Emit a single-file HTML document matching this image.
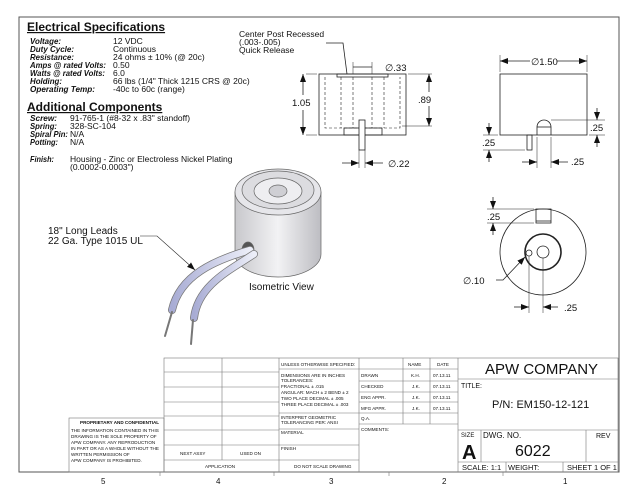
<!DOCTYPE html>
<html><head><meta charset="utf-8"><style>
html,body{margin:0;padding:0;background:#fff}
svg{display:block}
text{font-family:"Liberation Sans",Arial,sans-serif;fill:#111}
.b{font-weight:bold;font-style:italic}
.s{font-size:8.5px}
.t{font-size:4.6px}
</style></head><body>
<svg width="640" height="495" viewBox="0 0 640 495" xmlns="http://www.w3.org/2000/svg">
<defs>
<marker id="a" markerWidth="8" markerHeight="6" refX="8" refY="3" orient="auto" markerUnits="userSpaceOnUse"><path d="M0,0L8,3L0,6z" fill="#111"/></marker>
<linearGradient id="cyl" x1="0" x2="1"><stop offset="0" stop-color="#c8c8cc"/><stop offset=".5" stop-color="#f2f2f4"/><stop offset="1" stop-color="#bdbdc2"/></linearGradient>
<linearGradient id="wire" x1="0" x2="1"><stop offset="0" stop-color="#a8acd4"/><stop offset="1" stop-color="#eceef8"/></linearGradient>
</defs>
<rect x="19" y="17" width="600" height="455" fill="none" stroke="#555" stroke-width="1"/>
<!-- specs -->
<g class="s">
<text x="27" y="31" font-size="12" font-weight="bold" text-decoration="underline">Electrical Specifications</text>
<text class="b" x="30" y="44" textLength="31" lengthAdjust="spacingAndGlyphs">Voltage:</text><text x="113" y="44">12 VDC</text>
<text class="b" x="30" y="52" textLength="44" lengthAdjust="spacingAndGlyphs">Duty Cycle:</text><text x="113" y="52">Continuous</text>
<text class="b" x="30" y="60" textLength="44" lengthAdjust="spacingAndGlyphs">Resistance:</text><text x="113" y="60">24 ohms ± 10% (@ 20c)</text>
<text class="b" x="30" y="68" textLength="76" lengthAdjust="spacingAndGlyphs">Amps @ rated Volts:</text><text x="113" y="68">0.50</text>
<text class="b" x="30" y="76" textLength="75" lengthAdjust="spacingAndGlyphs">Watts @ rated Volts:</text><text x="113" y="76">6.0</text>
<text class="b" x="30" y="84" textLength="32" lengthAdjust="spacingAndGlyphs">Holding:</text><text x="113" y="84">66 lbs (1/4" Thick 1215 CRS @ 20c)</text>
<text class="b" x="30" y="92" textLength="65" lengthAdjust="spacingAndGlyphs">Operating Temp:</text><text x="113" y="92">-40c to 60c (range)</text>
<text x="27" y="111" font-size="12" font-weight="bold" text-decoration="underline">Additional Components</text>
<text class="b" x="30" y="121" textLength="27" lengthAdjust="spacingAndGlyphs">Screw:</text><text x="70" y="121">91-765-1 (#8-32 x .83" standoff)</text>
<text class="b" x="30" y="129" textLength="27" lengthAdjust="spacingAndGlyphs">Spring:</text><text x="70" y="129">328-SC-104</text>
<text class="b" x="30" y="137" textLength="38" lengthAdjust="spacingAndGlyphs">Spiral Pin:</text><text x="70" y="137">N/A</text>
<text class="b" x="30" y="145" textLength="28" lengthAdjust="spacingAndGlyphs">Potting:</text><text x="70" y="145">N/A</text>
<text class="b" x="30" y="162" textLength="24" lengthAdjust="spacingAndGlyphs">Finish:</text><text x="70" y="162">Housing - Zinc or Electroless Nickel Plating</text>
<text x="70" y="170">(0.0002-0.0003")</text>
</g>
<!-- side section view -->
<g stroke="#222" stroke-width="0.8" fill="none">
<text x="239" y="37" font-size="8.5" stroke="none">Center Post Recessed</text>
<text x="239" y="45" font-size="8.5" stroke="none">(.003-.005)</text>
<text x="239" y="53" font-size="8.5" stroke="none">Quick Release</text>
<polyline points="326,43 343,43 347,74"/>
<rect x="319" y="74" width="87" height="61"/>
<rect x="337" y="74" width="51" height="3"/>
<g stroke-dasharray="3,2" stroke-width="0.6">
<polyline points="325,77 325,128 400,128 400,77"/>
<line x1="341" y1="77" x2="341" y2="128"/><line x1="384" y1="77" x2="384" y2="128"/>
<line x1="353" y1="77" x2="353" y2="128"/><line x1="372" y1="77" x2="372" y2="128"/>
</g>
<rect x="344" y="128" width="38" height="7"/>
<rect x="359" y="120" width="6" height="30" fill="#fff"/>
<line x1="306" y1="74" x2="317" y2="74" stroke-width="0.5"/><line x1="306" y1="135" x2="317" y2="135" stroke-width="0.5"/>
<line x1="303" y1="95" x2="303" y2="74" marker-end="url(#a)"/><line x1="303" y1="110" x2="303" y2="135" marker-end="url(#a)"/>
<line x1="408" y1="74" x2="432" y2="74" stroke-width="0.5"/><line x1="402" y1="126" x2="432" y2="126" stroke-width="0.5"/>
<line x1="429" y1="92" x2="429" y2="74" marker-end="url(#a)"/><line x1="429" y1="106" x2="429" y2="126" marker-end="url(#a)"/>
<line x1="353" y1="62" x2="353" y2="74" stroke-width="0.5"/><line x1="372" y1="62" x2="372" y2="74" stroke-width="0.5"/>
<line x1="353" y1="67" x2="372" y2="67"/>
<line x1="359" y1="150" x2="359" y2="168" stroke-width="0.5"/><line x1="365" y1="150" x2="365" y2="168" stroke-width="0.5"/>
<line x1="342" y1="163" x2="359" y2="163" marker-end="url(#a)"/><line x1="383" y1="163" x2="365" y2="163" marker-end="url(#a)"/>
</g>
<g font-size="9.5">
<text x="292" y="106">1.05</text><text x="418" y="103">.89</text>
<text x="385" y="71">∅.33</text><text x="388" y="167">∅.22</text>
</g>
<!-- front view right -->
<g stroke="#222" stroke-width="0.8" fill="none">
<rect x="500" y="74" width="87" height="61"/>
<path d="M537,135 L537,127 A7,7 0 0 1 551,127 L551,135"/>
<line x1="537" y1="127" x2="551" y2="127"/>
<rect x="527" y="135" width="5" height="15"/>
<line x1="500" y1="55" x2="500" y2="72" stroke-width="0.5"/><line x1="587" y1="55" x2="587" y2="72" stroke-width="0.5"/>
<line x1="530" y1="61" x2="500" y2="61" marker-end="url(#a)"/><line x1="557" y1="61" x2="587" y2="61" marker-end="url(#a)"/>
<line x1="551" y1="120" x2="605" y2="120" stroke-width="0.5"/><line x1="589" y1="135" x2="605" y2="135" stroke-width="0.5"/>
<line x1="597" y1="108" x2="597" y2="120" marker-end="url(#a)"/><line x1="597" y1="147" x2="597" y2="135" marker-end="url(#a)"/>
<line x1="483" y1="135" x2="498" y2="135" stroke-width="0.5"/><line x1="483" y1="150" x2="525" y2="150" stroke-width="0.5"/>
<line x1="489" y1="123" x2="489" y2="135" marker-end="url(#a)"/><line x1="489" y1="162" x2="489" y2="150" marker-end="url(#a)"/>
<line x1="537" y1="137" x2="537" y2="168" stroke-width="0.5"/><line x1="551" y1="137" x2="551" y2="168" stroke-width="0.5"/>
<line x1="522" y1="162" x2="537" y2="162" marker-end="url(#a)"/><line x1="568" y1="162" x2="551" y2="162" marker-end="url(#a)"/>
</g>
<g font-size="9.5">
<text x="531" y="65">∅1.50</text><text x="590" y="131">.25</text><text x="482" y="146">.25</text><text x="571" y="165">.25</text>
</g>
<!-- end view -->
<g stroke="#222" stroke-width="0.8" fill="none">
<circle cx="543" cy="252" r="43"/>
<circle cx="543" cy="252" r="18" stroke-width="1.6"/>
<circle cx="543" cy="252" r="6"/>
<circle cx="529" cy="253" r="3"/>
<rect x="536" y="209" width="15" height="14"/>
<line x1="536" y1="221" x2="551" y2="221"/>
<line x1="487" y1="209" x2="534" y2="209" stroke-width="0.5"/><line x1="487" y1="223" x2="534" y2="223" stroke-width="0.5"/>
<line x1="493" y1="197" x2="493" y2="209" marker-end="url(#a)"/><line x1="493" y1="235" x2="493" y2="223" marker-end="url(#a)"/>
<polyline points="496,280 503,280 525,257" marker-end="url(#a)"/>
<line x1="529" y1="256" x2="529" y2="313" stroke-width="0.5"/><line x1="543" y1="258" x2="543" y2="313" stroke-width="0.5"/>
<line x1="514" y1="307" x2="529" y2="307" marker-end="url(#a)"/><line x1="558" y1="307" x2="543" y2="307" marker-end="url(#a)"/>
</g>
<g font-size="9.5"><text x="487" y="220">.25</text><text x="463" y="284">∅.10</text><text x="564" y="311">.25</text></g>
<!-- isometric -->
<g stroke="#666" stroke-width="0.7">
<path d="M235,192 L235,254 A43,23 0 0 0 321,254 L321,192 Z" fill="url(#cyl)"/>
<ellipse cx="278" cy="192" rx="43" ry="23" fill="#e6e6ea"/>
<ellipse cx="278" cy="190" rx="36" ry="19" fill="#dcdce0"/>
<ellipse cx="278" cy="191" rx="24" ry="13" fill="#eeeef1"/>
<ellipse cx="278" cy="191" rx="9" ry="6" fill="#cfcfd4"/>
<ellipse cx="248" cy="250" rx="6" ry="8" fill="#555"/>
</g>
<g fill="none" stroke-linecap="round">
<path d="M250,250 C215,260 180,275 172,310" stroke="#777" stroke-width="8"/>
<path d="M250,250 C215,260 180,275 172,310" stroke="url(#wire)" stroke-width="6.5"/>
<path d="M254,254 C230,270 198,285 194,318" stroke="#777" stroke-width="8"/>
<path d="M254,254 C230,270 198,285 194,318" stroke="url(#wire)" stroke-width="6.5"/>
<path d="M172,312 L165,336" stroke="#777" stroke-width="2"/>
<path d="M193,320 L191,344" stroke="#777" stroke-width="2"/>
</g>
<g font-size="10"><text x="48" y="234">18" Long Leads</text><text x="48" y="244">22 Ga. Type 1015 UL</text><text x="249" y="290">Isometric View</text></g>
<polyline points="140,236 157,236 195,270" fill="none" stroke="#222" stroke-width="0.6" marker-end="url(#a)"/>
<!-- title block -->
<g stroke="#777" stroke-width="0.6" fill="none">
<rect x="69" y="418" width="95" height="54"/>
<rect x="164" y="358" width="454" height="114"/>
<line x1="222" y1="358" x2="222" y2="460"/><line x1="279" y1="358" x2="279" y2="472"/>
<line x1="359" y1="358" x2="359" y2="472"/><line x1="458" y1="358" x2="458" y2="472"/>
<line x1="164" y1="372" x2="279" y2="372"/><line x1="164" y1="387" x2="279" y2="387"/>
<line x1="164" y1="402" x2="279" y2="402"/><line x1="164" y1="416" x2="279" y2="416"/>
<line x1="164" y1="430" x2="279" y2="430"/><line x1="164" y1="445" x2="279" y2="445"/>
<line x1="164" y1="460" x2="359" y2="460"/>
<line x1="279" y1="369" x2="359" y2="369"/><line x1="279" y1="413" x2="359" y2="413"/>
<line x1="279" y1="429" x2="359" y2="429"/><line x1="279" y1="445" x2="359" y2="445"/>
<line x1="403" y1="358" x2="403" y2="424"/><line x1="430" y1="358" x2="430" y2="424"/>
<line x1="359" y1="369" x2="458" y2="369"/><line x1="359" y1="381" x2="458" y2="381"/>
<line x1="359" y1="392" x2="458" y2="392"/><line x1="359" y1="402" x2="458" y2="402"/>
<line x1="359" y1="413" x2="458" y2="413"/><line x1="359" y1="424" x2="458" y2="424"/>
<line x1="458" y1="379" x2="618" y2="379"/><line x1="458" y1="430" x2="618" y2="430"/>
<line x1="458" y1="462" x2="618" y2="462"/>
<line x1="481" y1="430" x2="481" y2="462"/><line x1="586" y1="430" x2="586" y2="462"/>
<line x1="506" y1="462" x2="506" y2="472"/><line x1="563" y1="462" x2="563" y2="472"/>
<line x1="160" y1="472" x2="160" y2="476"/><line x1="274" y1="472" x2="274" y2="476"/>
<line x1="389" y1="472" x2="389" y2="476"/><line x1="503" y1="472" x2="503" y2="476"/>
</g>
<g class="t">
<text x="80" y="424" font-weight="bold">PROPRIETARY AND CONFIDENTIAL</text>
<text x="71" y="432">THE INFORMATION CONTAINED IN THIS</text>
<text x="71" y="438">DRAWING IS THE SOLE PROPERTY OF</text>
<text x="71" y="444">APW COMPANY.  ANY  REPRODUCTION</text>
<text x="71" y="450">IN PART OR AS A WHOLE WITHOUT THE</text>
<text x="71" y="456">WRITTEN PERMISSION OF</text>
<text x="71" y="462">APW COMPANY IS PROHIBITED.</text>
<text x="180" y="455">NEXT ASSY</text><text x="240" y="455">USED ON</text>
<text x="205" y="468">APPLICATION</text><text x="294" y="468">DO NOT SCALE DRAWING</text>
<text x="281" y="366">UNLESS OTHERWISE SPECIFIED:</text>
<text x="281" y="377">DIMENSIONS ARE IN INCHES</text>
<text x="281" y="382">TOLERANCES:</text>
<text x="281" y="388">FRACTIONAL ± .015</text>
<text x="281" y="394">ANGULAR: MACH ± 2   BEND ± 2</text>
<text x="281" y="400">TWO PLACE DECIMAL   ± .005</text>
<text x="281" y="406">THREE PLACE DECIMAL  ± .003</text>
<text x="281" y="419">INTERPRET GEOMETRIC</text>
<text x="281" y="424">TOLERANCING PER: ANSI</text>
<text x="281" y="434">MATERIAL</text><text x="281" y="450">FINISH</text>
<text x="408" y="366">NAME</text><text x="437" y="366">DATE</text>
<text x="361" y="377">DRAWN</text><text x="411" y="377">K.H.</text><text x="433" y="377">07.13.11</text>
<text x="361" y="388">CHECKED</text><text x="412" y="388">J.K.</text><text x="433" y="388">07.13.11</text>
<text x="361" y="399">ENG APPR.</text><text x="412" y="399">J.K.</text><text x="433" y="399">07.13.11</text>
<text x="361" y="410">MFG APPR.</text><text x="412" y="410">J.K.</text><text x="433" y="410">07.13.11</text>
<text x="361" y="420">Q.A.</text><text x="361" y="431">COMMENTS:</text>
</g>
<text x="485" y="374" font-size="15">APW COMPANY</text>
<text x="461" y="388" font-size="7">TITLE:</text>
<text x="492" y="408" font-size="11">P/N: EM150-12-121</text>
<text x="461" y="437" font-size="6">SIZE</text>
<text x="462" y="459" font-size="20" font-weight="bold">A</text>
<text x="483" y="438" font-size="8">DWG.  NO.</text>
<text x="515" y="456" font-size="16">6022</text>
<text x="596" y="438" font-size="7">REV</text>
<text x="462" y="470" font-size="7.5">SCALE: 1:1</text>
<text x="508" y="470" font-size="7.5">WEIGHT:</text>
<text x="567" y="470" font-size="7.5">SHEET 1 OF 1</text>
<g font-size="8"><text x="101" y="484">5</text><text x="216" y="484">4</text><text x="329" y="484">3</text><text x="442" y="484">2</text><text x="563" y="484">1</text></g>
</svg>
</body></html>
